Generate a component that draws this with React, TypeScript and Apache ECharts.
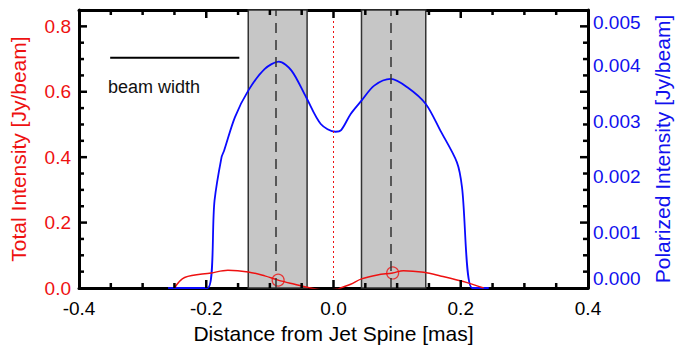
import React, { useEffect, useRef } from "react";
import * as echarts from "echarts";

// Distance from jet spine [mas] and polarized intensity [Jy/beam]
const polX = [-0.26, -0.198, -0.187, -0.176, -0.172, -0.155, -0.134, -0.108, -0.086, -0.066, -0.043, -0.02, 0.003, 0.012, 0.027, 0.044, 0.064, 0.09, 0.116, 0.145, 0.168, 0.194, 0.202, 0.218, 0.244];
const polY = [0, 0, 0.00157, 0.00235, 0.00247, 0.00307, 0.00355, 0.00394, 0.00407, 0.00391, 0.00343, 0.00295, 0.00281, 0.00284, 0.00313, 0.00337, 0.00364, 0.00376, 0.00361, 0.00331, 0.00283, 0.00226, 0.00181, 0, 0];

// Total intensity [Jy/beam]
const totX = [-0.25, -0.234, -0.192, -0.166, -0.134, -0.108, -0.087, -0.061, -0.038, -0.015, 0.005, 0.012, 0.027, 0.044, 0.069, 0.093, 0.11, 0.142, 0.168, 0.21, 0.236];
const totY = [0, 0.032, 0.046, 0.054, 0.049, 0.037, 0.024, 0.0115, 0.001, -0.006, -0.004, 0.001, 0.0115, 0.028, 0.04, 0.046, 0.053, 0.048, 0.037, 0.0165, 0];

// Marked positions (circles) and beam bands
const markX = [-0.087, 0.093];
const markY = [0.024, 0.046];
const bandFrom = [-0.134, 0.044];
const bandTo = [-0.0415, 0.145];
const beamLineX = [-0.351, -0.148];
const beamLineY = 0.704;

// Axis ranges and tick positions (1 = major tick, 0 = minor tick)
const xTicks = { min: -0.4, max: 0.4, interval: 0.2 };
const leftTicks = { min: 0, max: 0.85, interval: 0.2 };
const rightTicks = { min: 0, max: 0.005, interval: 0.001 };
const xTickValues = [-0.35, -0.3, -0.25, -0.2, -0.15, -0.1, -0.05, 0, 0.05, 0.1, 0.15, 0.2, 0.25, 0.3, 0.35];
const xTickMajor = [0, 0, 0, 1, 0, 0, 0, 1, 0, 0, 0, 1, 0, 0, 0];
const yTickValues = [0.05, 0.1, 0.15, 0.2, 0.25, 0.3, 0.35, 0.4, 0.45, 0.5, 0.55, 0.6, 0.65, 0.7, 0.75, 0.8];
const yTickMajor = [0, 0, 0, 1, 0, 0, 0, 1, 0, 0, 0, 1, 0, 0, 0, 1];

const FONT = "Liberation Sans";

export default function App() {
  const ref = useRef<HTMLDivElement>(null);
  useEffect(() => {
    const chart = echarts.init(ref.current!, null, { renderer: "svg" });
    const zip = (xs: number[], ys: number[]) => xs.map((x, i) => [x, ys[i]]);
    const hidden = () => ({ show: false });
    const frameLine = () => ({ show: true, onZero: false, lineStyle: { color: "#000", width: 3 } });
    const tickLine = (x1: number, y1: number, x2: number, y2: number) => ({
      type: "line",
      shape: { x1, y1, x2, y2 },
      style: { stroke: "#000", lineWidth: 2.5 },
    });
    chart.setOption({
      animation: false,
      grid: { left: 78, right: 101, top: 10, bottom: 75 },
      xAxis: [
        {
          type: "value",
          min: xTicks.min,
          max: xTicks.max,
          interval: xTicks.interval,
          position: "bottom",
          name: "Distance from Jet Spine [mas]",
          nameLocation: "middle",
          nameGap: 31,
          nameTextStyle: { color: "#000", fontSize: 21, fontFamily: FONT },
          axisLine: frameLine(),
          axisTick: hidden(),
          axisLabel: { color: "#000", fontSize: 19, fontFamily: FONT, margin: 11, formatter: (v: number) => v.toFixed(1) },
          splitLine: hidden(),
        },
        {
          type: "value",
          min: xTicks.min,
          max: xTicks.max,
          interval: xTicks.interval,
          position: "top",
          axisLine: frameLine(),
          axisTick: hidden(),
          axisLabel: hidden(),
          splitLine: hidden(),
        },
      ],
      yAxis: [
        {
          type: "value",
          position: "left",
          min: leftTicks.min,
          max: leftTicks.max,
          interval: leftTicks.interval,
          name: "Total Intensity [Jy/beam]",
          nameLocation: "middle",
          nameGap: 50,
          nameRotate: 90,
          nameTextStyle: { color: "#ee1111", fontSize: 21, fontFamily: FONT },
          axisLine: frameLine(),
          axisTick: hidden(),
          axisLabel: { color: "#ee1111", fontSize: 19, fontFamily: FONT, margin: 8, showMaxLabel: false, formatter: (v: number) => v.toFixed(1) },
          splitLine: hidden(),
        },
        {
          type: "value",
          position: "right",
          min: rightTicks.min,
          max: rightTicks.max,
          interval: rightTicks.interval,
          name: "Polarized Intensity [Jy/beam]",
          nameLocation: "middle",
          nameGap: 64,
          nameRotate: 90,
          nameTextStyle: { color: "#1111ee", fontSize: 21, fontFamily: FONT },
          axisLine: frameLine(),
          axisTick: hidden(),
          axisLabel: {
            color: "#1111ee",
            fontSize: 19,
            fontFamily: FONT,
            margin: 5,
            verticalAlignMinLabel: "bottom",
            verticalAlignMaxLabel: "top",
            padding: [3, 0, 0, 0],
            formatter: (v: number) => v.toFixed(3),
          },
          splitLine: hidden(),
        },
      ],
      graphic: [
        {
          type: "text",
          left: 108,
          top: 78,
          style: { text: "beam width", fontSize: 18, fontFamily: FONT, fill: "#111" },
        },
      ],
      series: [
        {
          type: "line",
          xAxisIndex: 0,
          yAxisIndex: 0,
          data: [],
          silent: true,
          markArea: {
            silent: true,
            itemStyle: { color: "#c6c6c6", borderColor: "#333", borderWidth: 1.5 },
            data: bandFrom.map((f, i) => [{ xAxis: f }, { xAxis: bandTo[i] }]),
          },
          markLine: {
            silent: true,
            symbol: "none",
            label: { show: false },
            data: [
              ...markX.map((x) => ({ xAxis: x, lineStyle: { color: "#333", width: 1.5, type: [10, 7] } })),
              { xAxis: 0, lineStyle: { color: "#ee1111", width: 1, type: [2, 3] } },
            ],
          },
        },
        {
          type: "line",
          xAxisIndex: 0,
          yAxisIndex: 0,
          data: [[beamLineX[0], beamLineY], [beamLineX[1], beamLineY]],
          symbol: "none",
          lineStyle: { color: "#000", width: 2 },
        },
        {
          type: "line",
          name: "Polarized",
          xAxisIndex: 0,
          yAxisIndex: 1,
          data: zip(polX, polY),
          symbol: "none",
          smooth: 0.3,
          clip: true,
          lineStyle: { color: "#0a0aff", width: 1.8 },
        },
        {
          type: "line",
          name: "Total",
          xAxisIndex: 0,
          yAxisIndex: 0,
          data: zip(totX, totY),
          symbol: "none",
          smooth: 0.35,
          clip: true,
          lineStyle: { color: "#ee1111", width: 1.5 },
        },
        {
          type: "scatter",
          xAxisIndex: 0,
          yAxisIndex: 0,
          data: zip(markX, markY),
          symbol: "circle",
          symbolSize: 12,
          itemStyle: { color: "rgba(0,0,0,0)", borderColor: "#ee1111", borderWidth: 1.2 },
        },
        {
          // inward ticks on the bottom and top frame edges, placed by the x scale
          type: "custom",
          coordinateSystem: "cartesian2d",
          xAxisIndex: 0,
          yAxisIndex: 0,
          silent: true,
          clip: false,
          z: 10,
          data: xTickValues.map((v, i) => [v, 0.4, xTickMajor[i]]),
          renderItem: (params: any, api: any) => {
            const cs = params.coordSys;
            const px = api.coord([api.value(0), 0.4])[0];
            const len = api.value(2) ? 8 : 5;
            const b = cs.y + cs.height;
            const t = cs.y;
            return { type: "group", children: [tickLine(px, b, px, b - len), tickLine(px, t, px, t + len)] };
          },
        },
        {
          // inward ticks on the left and right frame edges, placed by the left y scale
          type: "custom",
          coordinateSystem: "cartesian2d",
          xAxisIndex: 0,
          yAxisIndex: 0,
          silent: true,
          clip: false,
          z: 10,
          data: yTickValues.map((v, i) => [0, v, yTickMajor[i]]),
          renderItem: (params: any, api: any) => {
            const cs = params.coordSys;
            const py = api.coord([0, api.value(1)])[1];
            const len = api.value(2) ? 8 : 5;
            const l = cs.x;
            const r = cs.x + cs.width;
            return { type: "group", children: [tickLine(l, py, l + len, py), tickLine(r, py, r - len, py)] };
          },
        },
      ],
    });
    return () => chart.dispose();
  }, []);
  return <div ref={ref} style={{ position: "fixed", left: 0, top: 0, width: 689, height: 363, background: "#fff" }} />;
}
